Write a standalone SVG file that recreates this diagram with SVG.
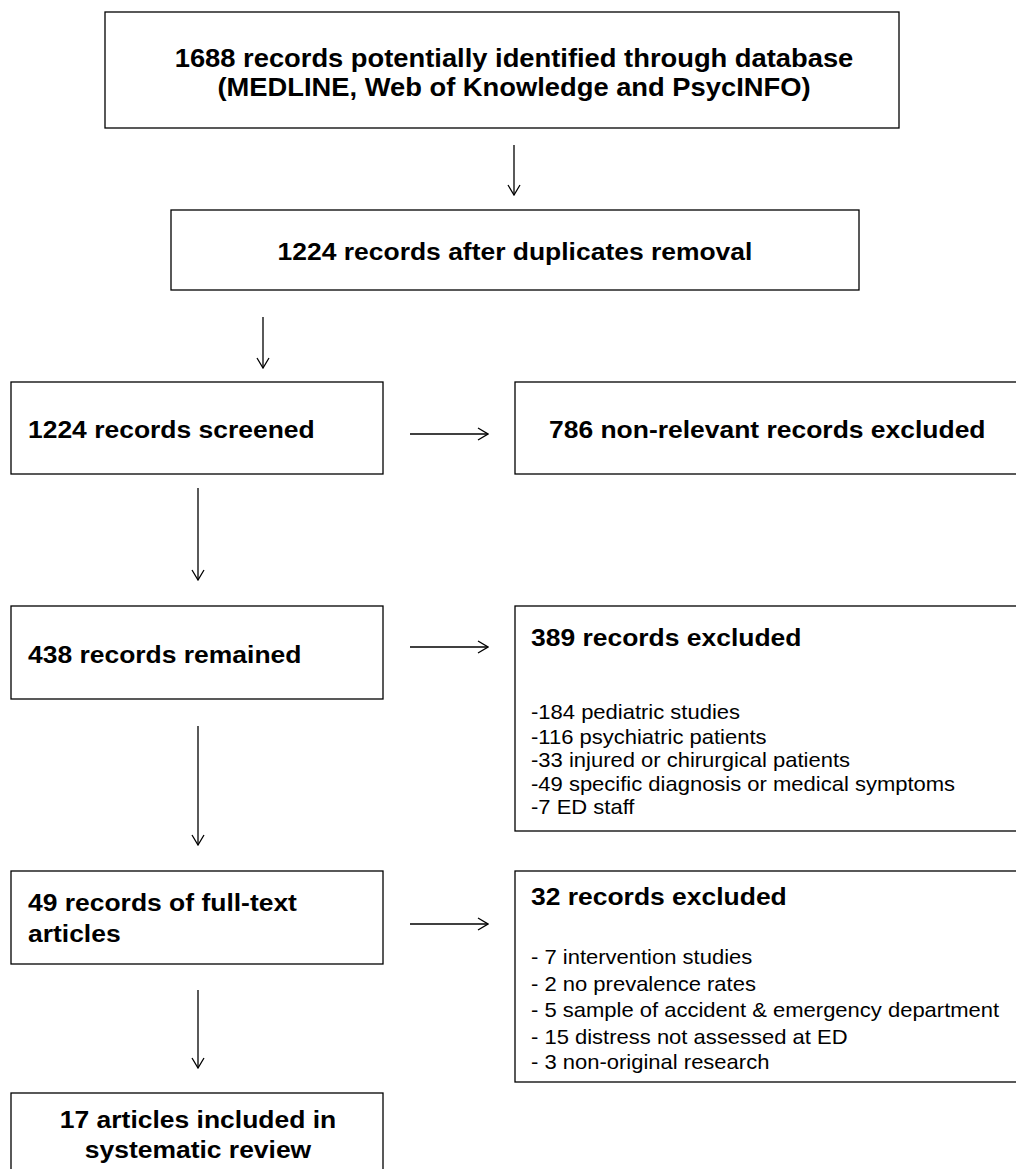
<svg xmlns="http://www.w3.org/2000/svg" width="1016" height="1169" viewBox="0 0 1016 1169">
<defs>
<marker id="arr" markerWidth="12" markerHeight="14" refX="11" refY="7" orient="auto" markerUnits="userSpaceOnUse">
<polyline points="1,1 11,7 1,13" fill="none" stroke="#000" stroke-width="1.3"/>
</marker>
<style>
.box{fill:#fff;stroke:#000;stroke-width:1.3}
.t{font-family:"Liberation Sans",Arial,sans-serif;font-size:24.5px;font-weight:bold;fill:#000}
.c{text-anchor:middle}
.l{font-family:"Liberation Sans",Arial,sans-serif;font-size:20px;fill:#000}
.ln{stroke:#000;stroke-width:1.3;fill:none}
</style>
</defs>
<rect width="1016" height="1169" fill="#fff"/>
<g id="n1"><rect class="box" x="105" y="12" width="794" height="116"/>
<text class="t c" transform="translate(514,67) scale(1.08,1)" style="font-size:25.3px">1688 records potentially identified through database</text>
<text class="t c" transform="translate(514,96) scale(1.08,1)" style="font-size:25.3px">(MEDLINE, Web of Knowledge and PsycINFO)</text></g>
<g id="n2"><rect class="box" x="171" y="210" width="688" height="80"/>
<text class="t c" transform="translate(515,260) scale(1.08,1)">1224 records after duplicates removal</text></g>
<g id="n3"><rect class="box" x="11" y="382" width="372" height="92"/>
<text class="t" transform="translate(28,438) scale(1.08,1)">1224 records screened</text></g>
<g id="n4"><rect class="box" x="515" y="382" width="510" height="92"/>
<text class="t" transform="translate(549,438) scale(1.08,1)">786 non-relevant records excluded</text></g>
<g id="n5"><rect class="box" x="11" y="606" width="372" height="93"/>
<text class="t" transform="translate(28,663) scale(1.08,1)">438 records remained</text></g>
<g id="n6"><rect class="box" x="515" y="606" width="510" height="225"/>
<text class="t" transform="translate(531,646) scale(1.08,1)">389 records excluded</text>
<text class="l" transform="translate(531,719) scale(1.1,1)">-184 pediatric studies</text>
<text class="l" transform="translate(531,743.5) scale(1.1,1)">-116 psychiatric patients</text>
<text class="l" transform="translate(531,767) scale(1.1,1)">-33 injured or chirurgical patients</text>
<text class="l" transform="translate(531,791) scale(1.1,1)">-49 specific diagnosis or medical symptoms</text>
<text class="l" transform="translate(531,814) scale(1.1,1)">-7 ED staff</text></g>
<g id="n7"><rect class="box" x="11" y="871" width="372" height="93"/>
<text class="t" transform="translate(28,911) scale(1.08,1)">49 records of full-text</text>
<text class="t" transform="translate(28,942) scale(1.08,1)">articles</text></g>
<g id="n8"><rect class="box" x="515" y="871" width="510" height="211"/>
<text class="t" transform="translate(531,905) scale(1.08,1)">32 records excluded</text>
<text class="l" transform="translate(531,964) scale(1.1,1)">- 7 intervention studies</text>
<text class="l" transform="translate(531,990.5) scale(1.1,1)">- 2 no prevalence rates</text>
<text class="l" transform="translate(531,1017) scale(1.1,1)">- 5 sample of accident &amp; emergency department</text>
<text class="l" transform="translate(531,1043.5) scale(1.1,1)">- 15 distress not assessed at ED</text>
<text class="l" transform="translate(531,1069) scale(1.1,1)">- 3 non-original research</text></g>
<g id="n9"><rect class="box" x="11" y="1093" width="372" height="90"/>
<text class="t c" transform="translate(198,1128) scale(1.08,1)">17 articles included in</text>
<text class="t c" transform="translate(198,1158) scale(1.08,1)">systematic review</text></g>
<g id="connectors">
<line class="ln" x1="514" y1="145" x2="514" y2="195" marker-end="url(#arr)"/>
<line class="ln" x1="263" y1="317" x2="263" y2="368" marker-end="url(#arr)"/>
<line class="ln" x1="410" y1="434" x2="488" y2="434" marker-end="url(#arr)"/>
<line class="ln" x1="198" y1="488" x2="198" y2="580" marker-end="url(#arr)"/>
<line class="ln" x1="410" y1="647" x2="488" y2="647" marker-end="url(#arr)"/>
<line class="ln" x1="198" y1="726" x2="198" y2="845" marker-end="url(#arr)"/>
<line class="ln" x1="410" y1="924" x2="488" y2="924" marker-end="url(#arr)"/>
<line class="ln" x1="198" y1="990" x2="198" y2="1068" marker-end="url(#arr)"/>
</g>
</svg>
